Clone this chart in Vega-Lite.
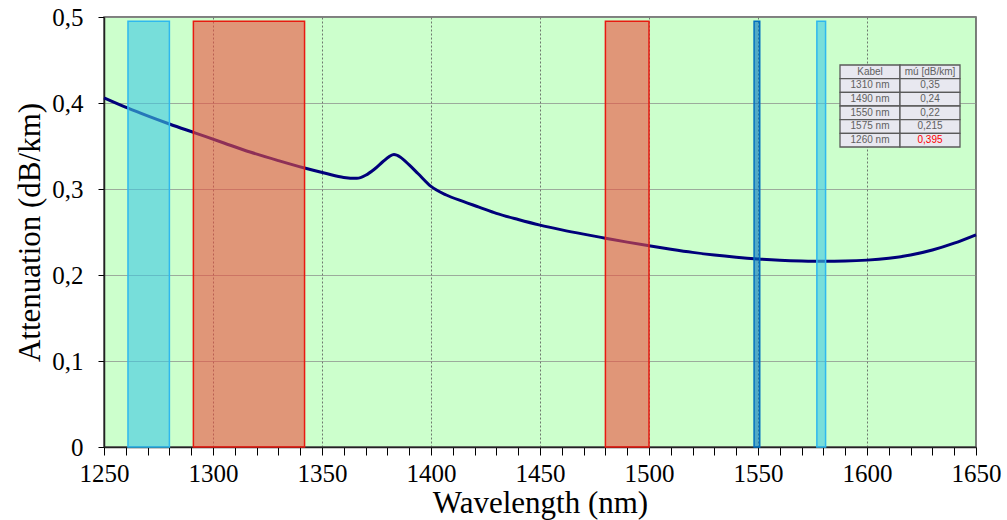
{
  "$schema": "https://vega.github.io/schema/vega-lite/v6.json",
  "width": 872,
  "height": 430,
  "autosize": "none",
  "padding": {"left": 104, "top": 17, "right": 31, "bottom": 73},
  "background": "#ffffff",
  "config": {
    "view": {"fill": "#CCFFCC", "stroke": "#555555", "strokeWidth": 1.5},
    "axis": {"labelOverlap": false, "labelBound": false}
  },
  "datasets": {
    "curve": [
      {"wl": 1250, "att": 0.406}, {"wl": 1261, "att": 0.394}, {"wl": 1270, "att": 0.385},
      {"wl": 1280, "att": 0.3756}, {"wl": 1292, "att": 0.365}, {"wl": 1305, "att": 0.3535},
      {"wl": 1317, "att": 0.343}, {"wl": 1330, "att": 0.333}, {"wl": 1342, "att": 0.3244},
      {"wl": 1352, "att": 0.318}, {"wl": 1360, "att": 0.3135}, {"wl": 1366, "att": 0.3125},
      {"wl": 1370, "att": 0.316}, {"wl": 1374, "att": 0.323}, {"wl": 1378, "att": 0.332},
      {"wl": 1381, "att": 0.338}, {"wl": 1383, "att": 0.340}, {"wl": 1386, "att": 0.337},
      {"wl": 1390, "att": 0.328}, {"wl": 1394, "att": 0.318}, {"wl": 1400, "att": 0.303},
      {"wl": 1407, "att": 0.293}, {"wl": 1415, "att": 0.2853}, {"wl": 1422, "att": 0.279},
      {"wl": 1430, "att": 0.2717}, {"wl": 1440, "att": 0.2645}, {"wl": 1450, "att": 0.258},
      {"wl": 1460, "att": 0.2525}, {"wl": 1470, "att": 0.2475}, {"wl": 1480, "att": 0.2428},
      {"wl": 1490, "att": 0.2382}, {"wl": 1500, "att": 0.234}, {"wl": 1510, "att": 0.230},
      {"wl": 1520, "att": 0.2263}, {"wl": 1530, "att": 0.2232}, {"wl": 1540, "att": 0.2207},
      {"wl": 1550, "att": 0.2187}, {"wl": 1560, "att": 0.2172}, {"wl": 1570, "att": 0.2163},
      {"wl": 1580, "att": 0.2159}, {"wl": 1590, "att": 0.2162}, {"wl": 1600, "att": 0.2173},
      {"wl": 1610, "att": 0.2195}, {"wl": 1620, "att": 0.2232}, {"wl": 1630, "att": 0.229},
      {"wl": 1640, "att": 0.237}, {"wl": 1650, "att": 0.2468}
    ],
    "bands": [
      {"kind": "cyan", "start": 1261, "end": 1280},
      {"kind": "red", "start": 1291, "end": 1342},
      {"kind": "red", "start": 1480, "end": 1500},
      {"kind": "blue", "start": 1548.2, "end": 1550.8},
      {"kind": "cyan", "start": 1577, "end": 1581}
    ],
    "table": [
      {"row": "r0", "col": "c0", "text": "Kabel"},
      {"row": "r0", "col": "c1", "text": "mú [dB/km]"},
      {"row": "r1", "col": "c0", "text": "1310 nm"},
      {"row": "r1", "col": "c1", "text": "0,35"},
      {"row": "r2", "col": "c0", "text": "1490 nm"},
      {"row": "r2", "col": "c1", "text": "0,24"},
      {"row": "r3", "col": "c0", "text": "1550 nm"},
      {"row": "r3", "col": "c1", "text": "0,22"},
      {"row": "r4", "col": "c0", "text": "1575 nm"},
      {"row": "r4", "col": "c1", "text": "0,215"},
      {"row": "r5", "col": "c0", "text": "1260 nm"},
      {"row": "r5", "col": "c1", "text": "0,395"}
    ]
  },
  "layer": [
    {
      "layer": [
        {
          "data": {"name": "curve"},
          "mark": {"type": "line", "color": "#00007A", "strokeWidth": 3, "interpolate": "monotone"},
          "encoding": {
            "x": {
              "field": "wl", "type": "quantitative",
              "scale": {"domain": [1250, 1650], "nice": false, "zero": false},
              "axis": {
                "values": [1250,1260,1270,1280,1290,1300,1310,1320,1330,1340,1350,1360,1370,1380,1390,1400,1410,1420,1430,1440,1450,1460,1470,1480,1490,1500,1510,1520,1530,1540,1550,1560,1570,1580,1590,1600,1610,1620,1630,1640,1650],
                "tickCount": 100,
                "format": "d",
                "labelExpr": "datum.value % 50 === 0 ? datum.label : ''",
                "labelOverlap": false,
                "labelFlush": false,
                "labelFont": "Liberation Serif",
                "labelFontSize": 25,
                "labelColor": "#000000",
                "labelPadding": 6,
                "tickColor": "#000000",
                "tickSize": 8,
                "tickWidth": 1,
                "domainColor": "#222222",
                "domainWidth": 1.5,
                "grid": true,
                "gridColor": "#555555",
                "gridDash": [2, 2],
                "gridWidth": 0.8,
                "gridOpacity": {"condition": {"test": "datum.value % 50 === 0 && datum.value > 1250 && datum.value < 1650", "value": 1}, "value": 0},
                "title": "Wavelength (nm)",
                "titleFont": "Liberation Serif",
                "titleFontSize": 31,
                "titleFontWeight": "normal",
                "titleColor": "#000000",
                "titlePadding": 2
              }
            },
            "y": {
              "field": "att", "type": "quantitative",
              "scale": {"domain": [0, 0.5], "nice": false, "zero": true},
              "axis": {
                "values": [0, 0.1, 0.2, 0.3, 0.4, 0.5],
                "tickCount": 20,
                "labelExpr": "datum.value == 0 ? '0' : replace(format(datum.value, '.1f'), '.', ',')",
                "labelFont": "Liberation Serif",
                "labelFontSize": 25,
                "labelColor": "#000000",
                "labelPadding": 15,
                "tickColor": "#000000",
                "tickSize": 6,
                "domainColor": "#222222",
                "domainWidth": 1.5,
                "grid": true,
                "gridColor": "#888888",
                "gridOpacity": 0.7,
                "gridWidth": 1,
                "title": "Attenuation (dB/km)",
                "titleFont": "Liberation Serif",
                "titleFontSize": 31,
                "titleFontWeight": "normal",
                "titleColor": "#000000",
                "titlePadding": 5
              }
            }
          }
        },
        {
          "data": {"name": "bands"},
          "mark": {"type": "rect", "strokeWidth": 1.5},
          "encoding": {
            "x": {"field": "start", "type": "quantitative"},
            "x2": {"field": "end"},
            "y": {"datum": 0, "type": "quantitative"},
            "y2": {"datum": 0.495},
            "fill": {"field": "kind", "type": "nominal", "scale": {"domain": ["cyan", "red", "blue"], "range": ["#3DC8E3", "#ED5040", "#0070C0"]}, "legend": null},
            "stroke": {"field": "kind", "type": "nominal", "scale": {"domain": ["cyan", "red", "blue"], "range": ["#2FB8EE", "#E81A10", "#0070C0"]}, "legend": null},
            "fillOpacity": {"field": "kind", "type": "nominal", "scale": {"domain": ["cyan", "red", "blue"], "range": [0.6, 0.6, 1]}, "legend": null}
          }
        }
      ]
    },
    {
      "data": {"name": "table"},
      "layer": [
        {
          "mark": {"type": "rect", "fill": "#E8E8F0", "stroke": "#5A5A5A", "strokeWidth": 1.3},
          "encoding": {
            "x": {"field": "col", "type": "nominal", "axis": null,
                  "scale": {"domain": ["_1","_2","_3","_4","_5","_6","_7","_8","_9","_10","_11","_12","c0","c1"], "paddingInner": 0, "paddingOuter": 0.2667, "align": 0.5, "round": false}},
            "y": {"field": "row", "type": "nominal", "axis": null,
                  "scale": {"domain": ["_a","_b","_c","r0","r1","r2","r3","r4","r5","_d","_e","_f","_g","_h","_i","_j","_k","_l","_m","_n","_o","_p","_q","_r","_s","_t","_u","_v","_w","_x"], "paddingInner": 0, "paddingOuter": 0.7317, "align": 0.35, "round": false}}
          }
        },
        {
          "mark": {"type": "text", "font": "Liberation Sans", "fontSize": 10, "align": "center", "baseline": "middle"},
          "encoding": {
            "x": {"field": "col", "type": "nominal", "axis": null},
            "y": {"field": "row", "type": "nominal", "axis": null},
            "text": {"field": "text"},
            "color": {"condition": {"test": "datum.text === '0,395'", "value": "#FF0000"}, "value": "#606060"}
          }
        }
      ]
    }
  ],
  "resolve": {"scale": {"x": "independent", "y": "independent"}}
}
